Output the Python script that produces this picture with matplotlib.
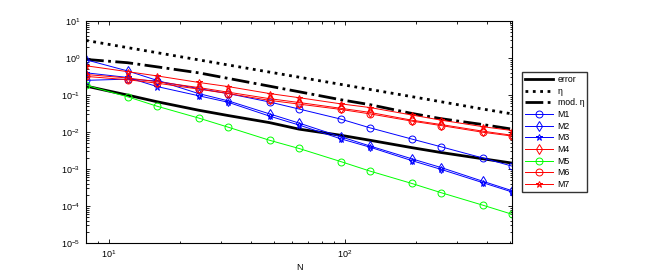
import matplotlib.pyplot as plt
from matplotlib.ticker import NullFormatter
import numpy as np

# Data
N = [8, 12, 16, 24, 32, 48, 64, 96, 128, 192, 256, 384, 512]

err = [0.175, 0.10, 0.066, 0.039, 0.028, 0.018, 0.012, 0.0082, 0.006, 0.0038, 0.0028, 0.0019, 0.00145]
eta = [3.0, 1.92, 1.40, 0.896, 0.653, 0.418, 0.305, 0.195, 0.142, 0.091, 0.066, 0.042, 0.031]
mod_eta = [0.92, 0.75, 0.58, 0.40, 0.283, 0.174, 0.123, 0.075, 0.055, 0.032, 0.023, 0.016, 0.012]

m1 = [0.25, 0.27, 0.24, 0.15, 0.11, 0.065, 0.042, 0.0225, 0.013, 0.0065, 0.004, 0.002, 0.0012]
m2 = [0.9, 0.45, 0.25, 0.11, 0.07, 0.031, 0.0175, 0.0075, 0.0042, 0.0019, 0.0011, 0.00047, 0.00026]
m3 = [0.4, 0.3, 0.17, 0.096, 0.064, 0.027, 0.0155, 0.0066, 0.0039, 0.0017, 0.00098, 0.00043, 0.00024]
m4 = [0.36, 0.29, 0.23, 0.16, 0.12, 0.08, 0.063, 0.044, 0.034, 0.021, 0.016, 0.0106, 0.0082]
m5 = [0.185, 0.09, 0.05, 0.024, 0.0136, 0.006, 0.0036, 0.0016, 0.00088, 0.00041, 0.00023, 0.000106, 0.00006]
m6 = [0.32, 0.26, 0.21, 0.145, 0.11, 0.072, 0.057, 0.041, 0.031, 0.0198, 0.015, 0.0099, 0.0078]
m7 = [0.62, 0.43, 0.33, 0.22, 0.17, 0.11, 0.085, 0.058, 0.046, 0.029, 0.021, 0.014, 0.011]

xticks = [10, 100]
yticks = [1e-5, 1e-4, 1e-3, 1e-2, 1e-1, 1e0, 1e1]

plt.rcParams['font.family'] = ['Liberation Sans', 'DejaVu Sans']
plt.rcParams['font.size'] = 6.5

fig = plt.figure(figsize=(6.54, 2.74), dpi=100)
ax = fig.add_axes([0.1315, 0.113, 0.6515, 0.81])

ax.loglog(N, err, '-', color='k', lw=2, label='error')
ax.loglog(N, eta, ':', color='k', lw=2, label='η')
ax.loglog(N, mod_eta, '-.', color='k', lw=2, label='mod. η')

thin = dict(lw=0.7, markersize=5, markerfacecolor='none', markeredgewidth=0.7)
ax.loglog(N, m1, 'o-', color='#0000ff', label='M1', **thin)
ax.loglog(N, m2, 'd-', color='#0000ff', label='M2', **thin)
ax.loglog(N, m3, '*-', color='#0000ff', label='M3', **thin)
ax.loglog(N, m4, 'd-', color='#ff0000', label='M4', **thin)
ax.loglog(N, m5, 'o-', color='#00ff00', label='M5', **thin)
ax.loglog(N, m6, 'o-', color='#ff0000', label='M6', **thin)
ax.loglog(N, m7, '*-', color='#ff0000', label='M7', **thin)

ax.set_xticks(xticks)
ax.set_yticks(yticks)
ax.set_xlim(8, 512)
ax.set_ylim(1e-5, 1e1)
ax.xaxis.set_minor_formatter(NullFormatter())
ax.yaxis.set_minor_formatter(NullFormatter())
ax.set_xlabel('N', labelpad=2)
ax.tick_params(which='both', direction='in', top=True, right=True, width=0.6)
ax.tick_params(which='major', length=3, pad=4)
ax.tick_params(which='minor', length=1.8)
for s in ax.spines.values():
    s.set_linewidth(0.8)

ax.legend(loc='upper left', bbox_to_anchor=(1.0235, 0.77), borderaxespad=0,
          fontsize=6.3, frameon=True, fancybox=False, edgecolor='k',
          handlelength=3.2, handletextpad=0.5, borderpad=0.35,
          labelspacing=0.3)

fig.savefig('out.png', dpi=100)
